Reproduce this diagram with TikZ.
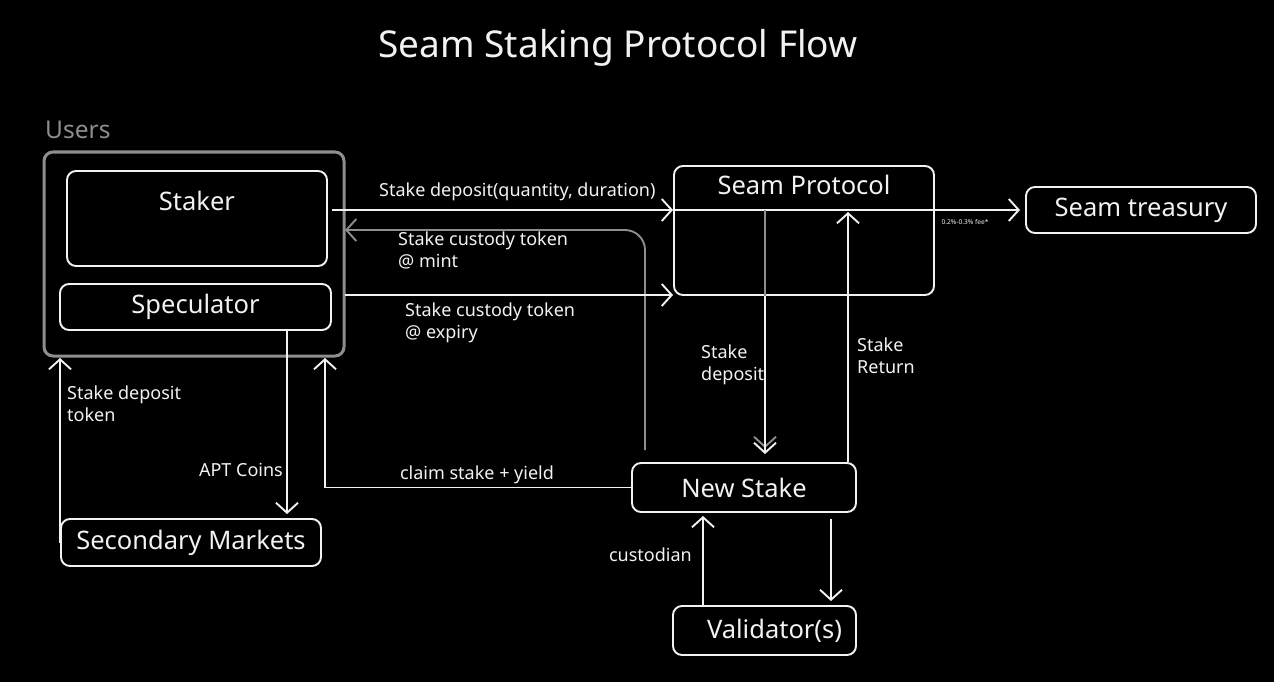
\documentclass[tikz,border=0pt]{standalone}
\usepackage{fontspec}
\setmainfont{Noto Sans}
\usetikzlibrary{arrows.meta}
\definecolor{ink}{HTML}{F2F2F2}
\definecolor{dim}{HTML}{8E8E8E}

\begin{document}
\begin{tikzpicture}[x=1pt,y=-1pt,
    box/.style={draw=ink, line width=1.9pt, rounded corners=9pt, text=ink,
      font=\fontsize{25.5}{30}\selectfont, inner sep=0pt},
    boxtext/.style={text=ink, font=\fontsize{25.5}{30}\selectfont, inner sep=0pt},
    lbl/.style={text=ink, font=\fontsize{18}{22}\selectfont, align=left, inner sep=0pt},
    flow/.style={draw=ink, line width=1.9pt,
      -{Straight Barb[length=10pt,width=22pt,line width=1.9pt]}},
  ]
        \fill[black] (0,0) rectangle (1274,682);
        \useasboundingbox (0,0) rectangle (1274,682);

        % title and group
        \node[text=ink, font=\fontsize{37}{44}\selectfont] (title) at (618,48) {Seam Staking Protocol Flow};
        \node[text=dim, font=\fontsize{24.5}{28}\selectfont, inner sep=0pt, anchor=west] (usersname) at (45,130) {Users};
        \node[box, draw=dim, line width=3pt, minimum width=300, minimum height=204] (users) at (194,254) {};

        % boxes
        \node[box, minimum width=260, minimum height=95,
          label={[boxtext, anchor=center, yshift=-31pt]north:Staker}] (staker) at (197,218.5) {};
        \node[box, minimum width=271, minimum height=46] (spec) at (195.5,307) {Speculator};
        \node[box, minimum width=260, minimum height=47] (secm) at (191,542.5) {Secondary Markets};
        \node[box, minimum width=260, minimum height=129,
          label={[boxtext, anchor=center, yshift=-20pt]north:Seam Protocol}] (seam) at (804,230.5) {};
        \node[box, minimum width=230, minimum height=46] (treasury) at (1141,210) {Seam treasury};
        \node[box, minimum width=224, minimum height=49] (newstake) at (744,487.5) {New Stake};
        \node[box, minimum width=183, minimum height=49] (valid) at (764.5,630.5) {\hspace*{20pt}Validator(s)};

        % free ends
        \coordinate (depstart) at (332,210);
        \coordinate (mintstart) at (645,450);
        \coordinate (mintend) at (345,230);
        \coordinate (expstart) at (345,295);
        \coordinate (deptop) at (765,210);
        \coordinate (rettop) at (848,212);
        \coordinate (claimend) at (325,358);
        \coordinate (tokend) at (60,358);
        \coordinate (aptx) at (287,0);
        \coordinate (custx) at (703,0);
        \coordinate (downx) at (831,0);

        % connectors
        \draw[flow] (depstart) -- (seam.west |- depstart);
        \draw[flow, shorten >=5pt] (seam.west |- depstart) -- (treasury.west);
        \draw[flow, draw=dim, rounded corners=20pt] (mintstart) -- (mintstart |- mintend) -- (mintend);
        \draw[flow] (expstart) -- (seam.west |- expstart);
        \draw[flow, draw=dim, shorten >=14pt] (deptop) -- (deptop |- newstake.north);
        \draw[flow, shorten >=8pt] (deptop |- seam.south) -- (deptop |- newstake.north);
        \draw[flow] (rettop |- newstake.north) -- (rettop);
        \draw[flow] (newstake.west) -| (claimend);
        \draw[flow, shorten >=4pt] (aptx |- spec.south) -- (aptx |- secm.north);
        \draw[flow] (tokend |- secm.west) -- (tokend);
        \draw[flow, shorten >=3pt] (custx |- valid.north) -- (custx |- newstake.south);
        \draw[flow, shorten <=6pt, shorten >=4pt] (downx |- newstake.south) -- (downx |- valid.north);

        % labels
        \node[lbl, anchor=west] (ldep) at (379,192) {Stake deposit(quantity, duration)};
        \node[font=\fontsize{6.6}{8}\selectfont, text=ink, inner sep=0pt] (lfee) at (965,222) {0.2\%-0.3\% fee*};
        \node[lbl, anchor=west] (lmint) at (398,250.5) {Stake custody token\\@ mint};
        \node[lbl, anchor=west] (lexp) at (405,322.5) {Stake custody token\\@ expiry};
        \node[lbl, anchor=west] (lsdep) at (701,364.5) {Stake\\deposit};
        \node[lbl, anchor=west] (lret) at (857,356) {Stake\\Return};
        \node[lbl, anchor=west] (ltok) at (67,404) {Stake deposit\\token};
        \node[lbl, anchor=east] (lapt) at (283,470) {APT Coins};
        \node[lbl] (lclaim) at (477,475) {claim stake + yield};
        \node[lbl, anchor=east] (lcust) at (692,555) {custodian};
\end{tikzpicture}
\end{document}
